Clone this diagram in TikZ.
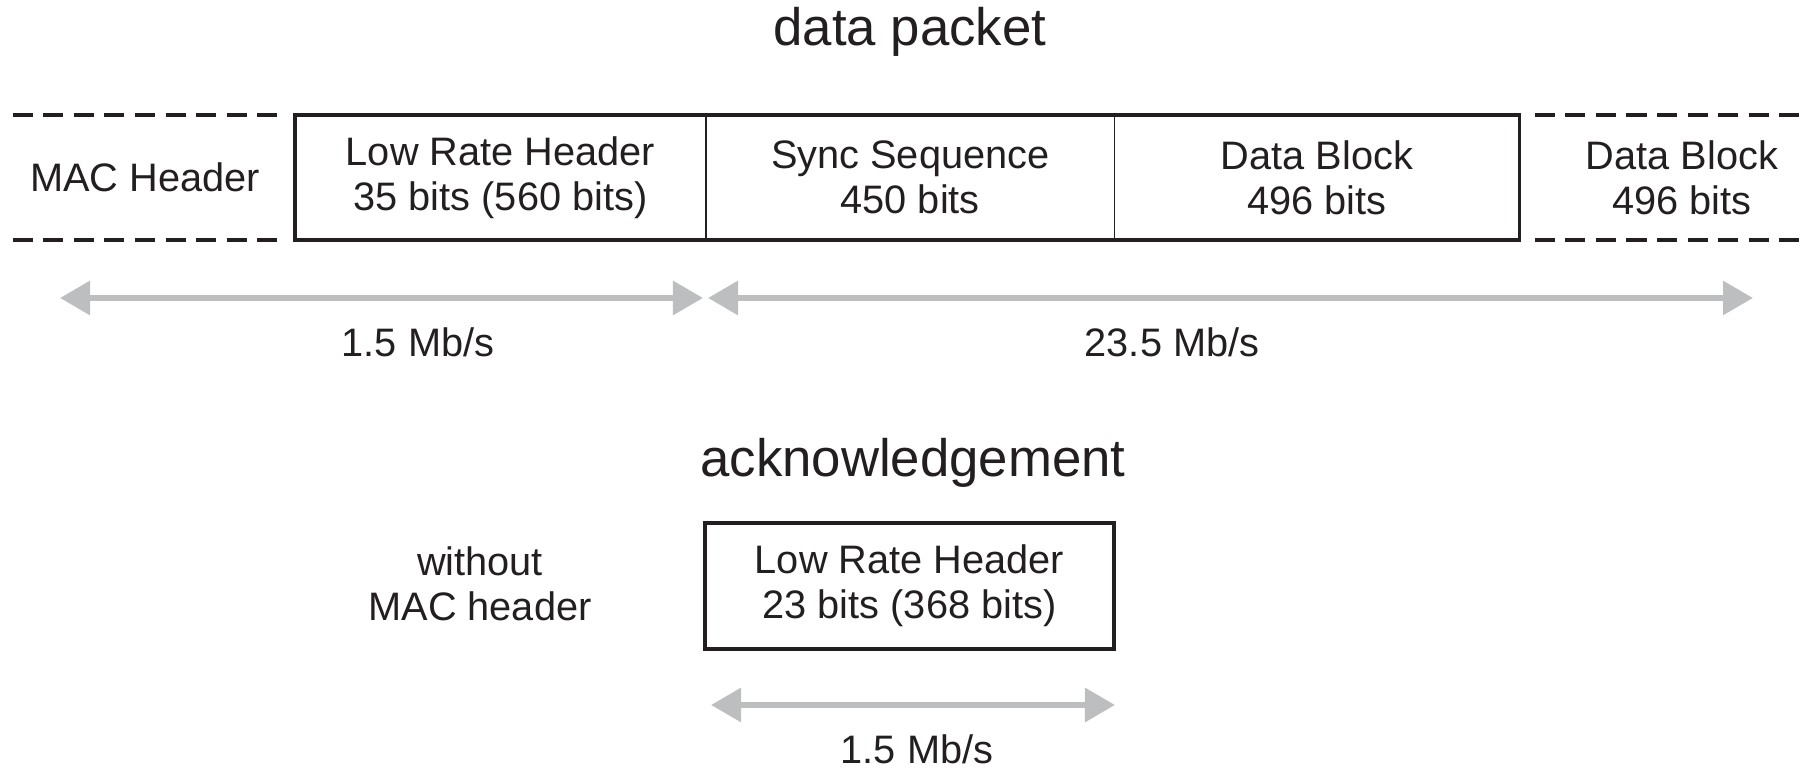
\documentclass[tikz,border=0pt]{standalone}
\usepackage{fontspec}
\setmainfont{Liberation Sans}
\usetikzlibrary{positioning,arrows.meta}
\definecolor{ink}{RGB}{35,31,32}
\definecolor{rategray}{RGB}{188,190,192}

\begin{document}
\begin{tikzpicture}[x=0.01cm, y=-0.01cm,
color=ink, text=ink,
field/.style={draw, rectangle, line width=0.4pt, outer sep=0pt, inner sep=0pt, minimum height=1.25cm, align=center, font=\fontsize{11.3}{12.8}\selectfont},
outline/.style={draw, line width=1pt},
openline/.style={line width=0.95pt, dash pattern=on 0.2cm off 0.105cm},
rate/.style={{Triangle[length=0.3cm,width=0.33cm]}-{Triangle[length=0.3cm,width=0.33cm]}, color=rategray, line width=0.06cm},
ratetext/.style={font=\fontsize{11.3}{12.8}\selectfont},
titletext/.style={font=\fontsize{15}{18}\selectfont}]

\useasboundingbox (0,0) rectangle (1800,768);

% data packet
\node[titletext] (packet) at (910,32) {data packet};

\node[field, minimum width=4.11cm] 			(lrh) at (500.5,177.5) 		{Low Rate Header\\35 bits (560 bits)};
\node[field, minimum width=4.08cm, right=0pt of lrh] 	(sync) 		{Sync Sequence\\450 bits};
\node[field, minimum width=4.05cm, right=0pt of sync] 	(data) 		{Data Block\\496 bits};
\draw[outline] (lrh.north west) rectangle (data.south east);

\node[field, draw=none, minimum width=2.64cm] 		(mac) at (145,177.5) 		{MAC Header};
\node[field, draw=none, minimum width=2.94cm] 		(next) at (1682,177.5) 		{Data Block\\496 bits};
\draw[openline] (mac.north west) -- (mac.north east) (mac.south west) -- (mac.south east);
\draw[openline] (next.north west) -- (next.north east) (next.south west) -- (next.south east);

% rates
\coordinate (lowA) at (60,298);
\coordinate (lowB) at (703,298);
\coordinate (highA) at (708,298);
\coordinate (highB) at (1753,298);
\draw[rate] (lowA) -- (lowB);
\draw[rate] (highA) -- (highB);
\node[ratetext] (lowrate) at (418,342) {1.5 Mb/s};
\node[ratetext] (highrate) at (1172,342) {23.5 Mb/s};

% acknowledgement
\node[titletext] (ack) at (913,463) {acknowledgement};
\node[field, line width=1pt, minimum width=4.09cm, minimum height=1.26cm] 	(acklrh) at (909.5,586) 	{Low Rate Header\\23 bits (368 bits)};
\node[field, draw=none] 		(nomac) at (480,584) 		{without\\MAC header};

\coordinate (ackA) at (711,705);
\coordinate (ackB) at (1115,705);
\draw[rate] (ackA) -- (ackB);
\node[ratetext, anchor=base, inner sep=0pt] (ackrate) at (917,764) {1.5 Mb/s};

\end{tikzpicture}
\end{document}
